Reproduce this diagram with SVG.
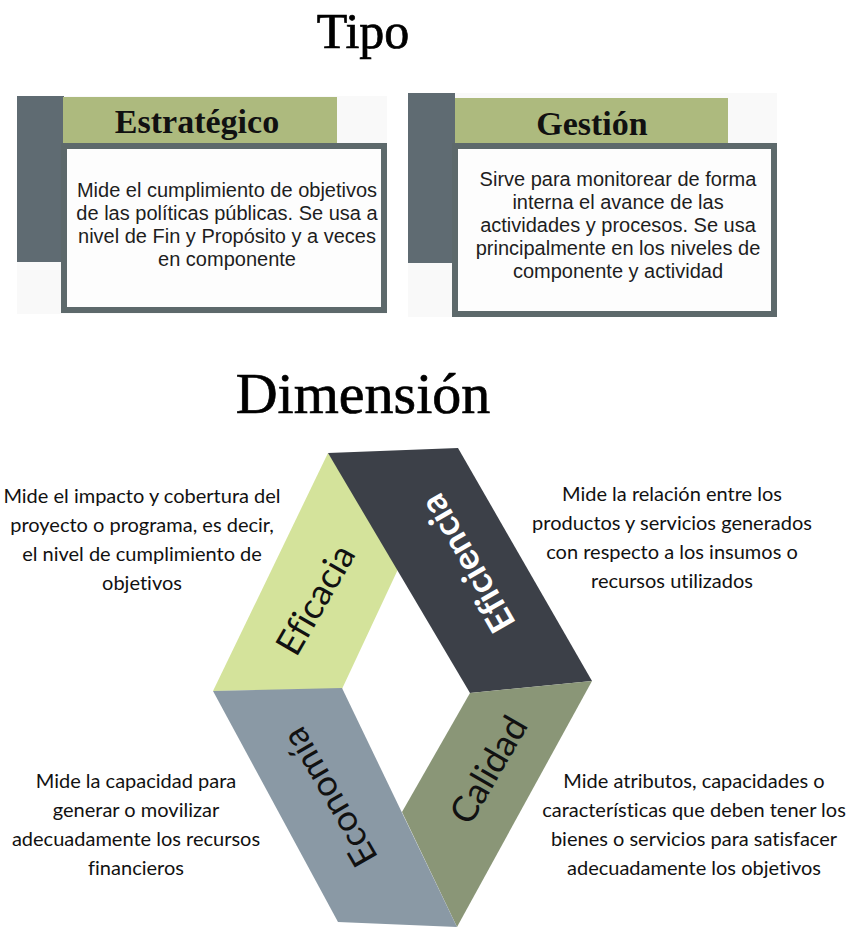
<svg xmlns="http://www.w3.org/2000/svg" width="847" height="929" viewBox="0 0 847 929">
  <style>
    text { font-variant-ligatures: none; }
    .title { font-family: "Liberation Serif", "Times New Roman", serif; fill: #000; stroke: #000; stroke-width: 0.7; text-anchor: middle; }
    .head { font-family: "Liberation Serif", "Times New Roman", serif; font-weight: bold; font-size: 34px; fill: #111; text-anchor: middle; }
    .body { font-family: "Liberation Sans", Arial, sans-serif; font-size: 20px; fill: #1e1e1e; text-anchor: middle; }
    .desc { font-family: Lato, "Open Sans", sans-serif; font-size: 20px; fill: #111; text-anchor: middle; }
    .band { font-family: Lato, "Open Sans", sans-serif; font-size: 36px; text-anchor: middle; }
    .cardbg { fill: #f9f9f9; }
    .slab { fill: #5f6b72; }
    .tab { fill: #adba7e; }
    .panel { fill: #fdfdfd; stroke: #5d696b; stroke-width: 6; }
  </style>

  <rect width="847" height="929" fill="#ffffff"/>

  <!-- Section titles -->
  <text class="title" x="363" y="48" font-size="50">Tipo</text>
  <text class="title" x="363" y="413" font-size="58">Dimensión</text>

  <!-- Card: Estratégico -->
  <g id="card-estrategico">
    <rect class="cardbg" x="17" y="96" width="370" height="218"/>
    <rect class="slab" x="17" y="96" width="47" height="166"/>
    <rect class="tab" x="63" y="97" width="274" height="47"/>
    <rect class="panel" x="64" y="146" width="320" height="164"/>
    <text class="head" x="197" y="133">Estratégico</text>
    <text class="body" x="227" y="197">Mide el cumplimiento de objetivos</text>
    <text class="body" x="227" y="220">de las políticas públicas. Se usa a</text>
    <text class="body" x="227" y="243">nivel de Fin y Propósito y a veces</text>
    <text class="body" x="227" y="266">en componente</text>
  </g>

  <!-- Card: Gestión -->
  <g id="card-gestion">
    <rect class="cardbg" x="408" y="93" width="369" height="224"/>
    <rect class="slab" x="408" y="93" width="47" height="170"/>
    <rect class="tab" x="455" y="98" width="273" height="46"/>
    <rect class="panel" x="455" y="146" width="319" height="168"/>
    <text class="head" x="592" y="135">Gestión</text>
    <text class="body" x="618" y="186" font-size="20.4">Sirve para monitorear de forma</text>
    <text class="body" x="618" y="209" font-size="20.4">interna el avance de las</text>
    <text class="body" x="618" y="232" font-size="20.4">actividades y procesos. Se usa</text>
    <text class="body" x="618" y="255" font-size="20.4">principalmente en los niveles de</text>
    <text class="body" x="618" y="278" font-size="20.4">componente y actividad</text>
  </g>

  <!-- Dimension ring: four overlapping bands -->
  <g id="band-eficacia">
    <polygon points="328,453 400,565 342,689 213,691" fill="#d4e39b"/>
    <g transform="translate(316,600) rotate(-60)">
      <text class="band" y="12" fill="#111">Eficacia</text>
    </g>
  </g>

  <g id="band-eficiencia">
    <polygon points="328,453 458,448 592,681 470,693" fill="#3c4048"/>
    <g transform="translate(468,563) rotate(-120)">
      <text class="band" y="12" fill="#ffffff" font-weight="bold">Eficiencia</text>
    </g>
  </g>

  <g id="band-calidad">
    <polygon points="470,693 592,681 457,927 402,812" fill="#8a9677"/>
    <g transform="translate(489,770) rotate(-60)">
      <text class="band" y="12" fill="#111">Calidad</text>
    </g>
  </g>

  <g id="band-economia">
    <polygon points="213,691 342,688 457,927 338,922" fill="#8a99a5"/>
    <g transform="translate(330,797) rotate(-120)">
      <text class="band" y="12" fill="#111">Economía</text>
    </g>
  </g>

  <!-- Descriptions beside each band -->
  <g id="desc-eficacia">
    <text class="desc" x="142" y="503">Mide el impacto y cobertura del</text>
    <text class="desc" x="142" y="532">proyecto o programa, es decir,</text>
    <text class="desc" x="142" y="561">el nivel de cumplimiento de</text>
    <text class="desc" x="142" y="590">objetivos</text>
  </g>

  <g id="desc-eficiencia">
    <text class="desc" x="672" y="501">Mide la relación entre los</text>
    <text class="desc" x="672" y="530">productos y servicios generados</text>
    <text class="desc" x="672" y="559">con respecto a los insumos o</text>
    <text class="desc" x="672" y="588">recursos utilizados</text>
  </g>

  <g id="desc-economia">
    <text class="desc" x="136" y="788">Mide la capacidad para</text>
    <text class="desc" x="136" y="817">generar o movilizar</text>
    <text class="desc" x="136" y="846">adecuadamente los recursos</text>
    <text class="desc" x="136" y="875">financieros</text>
  </g>

  <g id="desc-calidad">
    <text class="desc" x="694" y="788">Mide atributos, capacidades o</text>
    <text class="desc" x="694" y="817" font-size="19.7">características que deben tener los</text>
    <text class="desc" x="694" y="846">bienes o servicios para satisfacer</text>
    <text class="desc" x="694" y="875">adecuadamente los objetivos</text>
  </g>

  <g id="connectors"/>
</svg>
